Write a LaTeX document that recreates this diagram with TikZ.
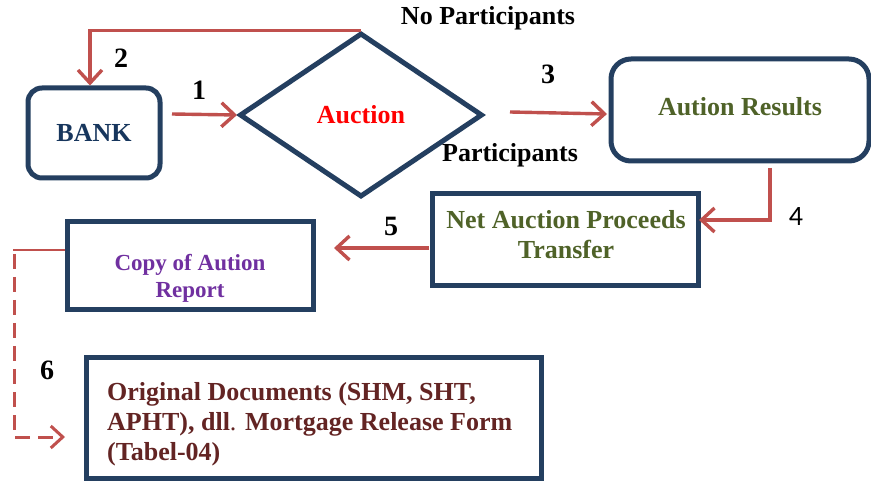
\documentclass[tikz,border=0pt]{standalone}
\usepackage{fontspec}
\setmainfont{Liberation Serif}
\newfontfamily\digitfont{Carlito}
\usetikzlibrary{arrows.meta,shapes.geometric}
\definecolor{navy}{HTML}{243F60}
\definecolor{arrowred}{HTML}{C0504D}
\definecolor{bankblue}{HTML}{17365D}
\definecolor{olivegreen}{HTML}{4F6228}
\definecolor{violet}{HTML}{7030A0}
\definecolor{maroon}{HTML}{632423}
\tikzset{
  txt/.style={font=\fontsize{26}{30}\selectfont\bfseries, align=center, inner sep=0pt},
  numlabel/.style={font=\fontsize{28}{30}\selectfont\bfseries, inner sep=0pt},
  frame/.style={draw=navy, line width=5pt, fill=white, inner sep=0pt},
  roundframe/.style={frame, rounded corners=16pt},
  arr/.style={draw=arrowred, line width=3.4pt, -{Straight Barb[length=13pt,width=24pt]}},
  dasharr/.style={draw=arrowred, line width=3pt, dash pattern=on 15pt off 8pt, -{Straight Barb[length=12pt,width=22pt]}},
}
\begin{document}
\begin{tikzpicture}[x=1pt,y=-1pt]
\useasboundingbox (0,0) rectangle (871,481);
\fill[white] (0,0) rectangle (871,481);

% boxes
\node[roundframe, minimum width=132pt, minimum height=90pt, rounded corners=14pt,
      txt, text=bankblue] (bank) at (94,133) {BANK};
\node[frame, diamond, minimum width=243pt, minimum height=164pt,
      txt, text=red] (auction) at (361,115) {Auction};
\node[roundframe, minimum width=258pt, minimum height=102pt, rounded corners=20pt] (results) at (740,110) {};
\node[txt, text=olivegreen] (resultstxt) at (740,107) {Aution Results};
\node[frame, minimum width=266pt, minimum height=92pt] (net) at (565.5,239.5) {};
\node[txt, text=olivegreen] (nettxt) at (566,235) {Net Auction Proceeds\\Transfer};
\node[frame, minimum width=246pt, minimum height=88pt] (copy) at (190,266) {};
\node[txt, text=violet, font=\fontsize{23}{27}\selectfont\bfseries] (copytxt) at (190,278) {Copy of Aution\\Report};
\node[frame, minimum width=455pt, minimum height=120pt] (orig) at (313.5,418) {};
\node[txt, text=maroon, align=left, anchor=west] (origtxt) at (107,424)
      {Original Documents (SHM, SHT,\\APHT), dll{\mdseries.} Mortgage Release Form\\(Tabel-04)};

% free ends of connectors
\coordinate (s1) at (172,114);
\coordinate (s3) at (510,112);
\coordinate (t3) at (607,114);
\coordinate (s4) at (770,168);
\coordinate (t4) at (699,220);
\coordinate (s5) at (429,248);
\coordinate (t5) at (334,248);
\coordinate (c6a) at (13,250);
\coordinate (c6b) at (14,254);
\coordinate (c6c) at (14,437);
\coordinate (t6) at (65,437);

% connectors
\draw[arr] (s1) -- (auction.west);
\draw[arr] (auction.north) -| ([xshift=-4pt]bank.north);
\draw[arr] (s3) -- (t3);
\draw[arr] (s4) |- (t4);
\draw[arr] (s5) -- (t5);
\draw[draw=arrowred, line width=1.3pt] (c6a) -- (copy.west |- c6a);
\draw[dasharr] (c6b) -- (c6c) -- (t6);

% labels
\node[numlabel] (n1) at (199,90) {1};
\node[numlabel] (n2) at (121,58) {2};
\node[numlabel] (n3) at (548,74) {3};
\node[inner sep=0pt, font=\digitfont\fontsize{28}{30}\selectfont] (n4) at (796,217) {4};
\node[numlabel] (n5) at (391,226) {5};
\node[numlabel] (n6) at (47,370) {6};
\node[txt] (nopart) at (488,18) {No Participants};
\node[txt] (part) at (510,155) {Participants};
\end{tikzpicture}
\end{document}
